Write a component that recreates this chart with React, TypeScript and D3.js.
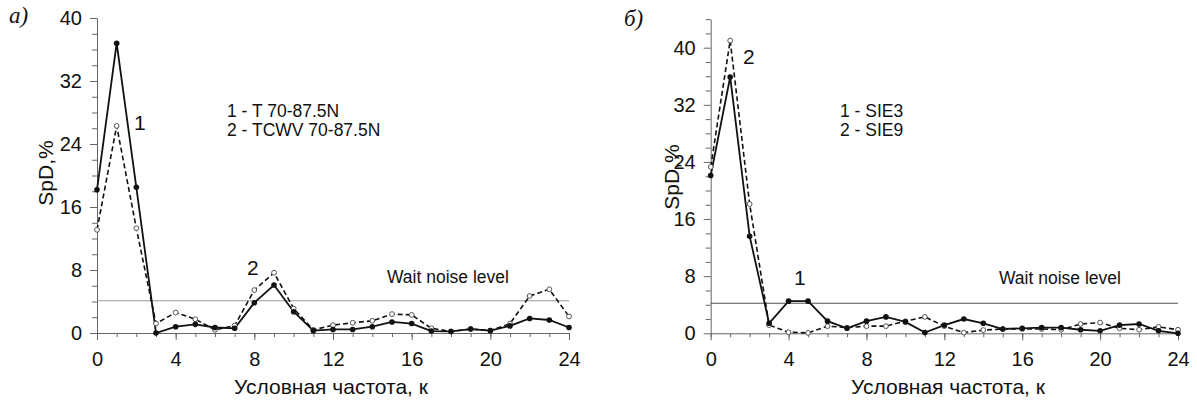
import React, { useEffect, useRef } from "react";
import * as d3 from "d3";

// Conditional frequency k
const freqK = [0, 1, 2, 3, 4, 5, 6, 7, 8, 9, 10, 11, 12, 13, 14, 15, 16, 17, 18, 19, 20, 21, 22, 23, 24];

// Panel a): 1 - T 70-87.5N (solid), 2 - TCWV 70-87.5N (dashed)
const seriesT = [18.2, 36.8, 18.5, 0.0, 0.8, 1.1, 0.7, 0.6, 3.85, 6.1, 2.7, 0.3, 0.45, 0.45, 0.8, 1.4, 1.2, 0.25, 0.2, 0.5, 0.3, 0.9, 1.85, 1.65, 0.7];
const seriesTCWV = [13.1, 26.3, 13.3, 1.2, 2.6, 1.75, 0.4, 0.95, 5.45, 7.65, 3.1, 0.4, 1.0, 1.3, 1.55, 2.4, 2.3, 0.6, 0.2, 0.5, 0.3, 1.2, 4.7, 5.55, 2.1];

// Panel б): 1 - SIE3 (solid), 2 - SIE9 (dashed)
const seriesSIE3 = [22.1, 35.9, 13.6, 1.4, 4.5, 4.5, 1.7, 0.7, 1.7, 2.3, 1.6, 0.1, 1.15, 2.0, 1.4, 0.6, 0.7, 0.8, 0.8, 0.5, 0.35, 1.15, 1.3, 0.35, 0.0];
const seriesSIE9 = [23.3, 41.0, 18.1, 1.15, 0.15, 0.05, 1.0, 0.8, 1.0, 1.0, 1.7, 2.3, 1.0, 0.1, 0.45, 0.6, 0.6, 0.6, 0.5, 1.3, 1.5, 0.7, 0.5, 0.9, 0.5];

const noiseLevelA = 4.1;
const noiseLevelB = 4.2;

const xTickValues = [0, 4, 8, 12, 16, 20, 24];
const yTickValues = [0, 8, 16, 24, 32, 40];
const yMinorA = [2, 4, 6, 10, 12, 14, 18, 20, 22, 26, 28, 30, 34, 36, 38];
const yMinorB = [2, 4, 6, 10, 12, 14, 18, 20, 22, 26, 28, 30, 34, 36, 38, 42, 44];

const legendA = ["1 - T 70-87.5N", "2 - TCWV 70-87.5N"];
const legendB = ["1 - SIE3", "2 - SIE9"];
const noiseText = "Wait noise level";
const xTitle = "Условная частота, к";
const yTitle = "SpD,%";

type PanelCfg = {
  x0: number; x1: number; yb: number; yt: number; ymax: number;
  minor: number[];
  solid: number[]; dashed: number[];
  noise: number; noiseColor: string;
  noiseTextX: number; noiseTextY: number;
  legend: string[]; legX: number; legY: number; legDy: number;
  label1: [number, number]; label2: [number, number];
  panelLabel: string; plX: number; plY: number;
  yTitleX: number; yTitleY: number;
  xTitleX: number;
};

const FONT = "Arial, 'Liberation Sans', sans-serif";

function drawPanel(svg: d3.Selection<SVGSVGElement, unknown, null, undefined>, c: PanelCfg) {
  const g = svg.append("g");
  const x = d3.scaleLinear().domain([0, 24]).range([c.x0, c.x1]);
  const y = d3.scaleLinear().domain([0, c.ymax]).range([c.yb, c.yt]);
  const axisColor = "#666";

  const ym = g.append("g").attr("transform", `translate(${c.x0},0)`)
    .call(d3.axisLeft(y).tickValues(c.minor).tickSize(5).tickFormat(() => ""));
  ym.select(".domain").remove();
  ym.selectAll("line").attr("stroke", axisColor);

  const ya = g.append("g").attr("transform", `translate(${c.x0},0)`)
    .call(d3.axisLeft(y).tickValues(yTickValues).tickSize(7).tickSizeOuter(0).tickPadding(8));
  ya.select(".domain").attr("stroke", axisColor);
  ya.selectAll("line").attr("stroke", axisColor);
  ya.selectAll("text").attr("font-family", FONT).attr("font-size", 20).attr("fill", "#111");

  const xm = g.append("g").attr("transform", `translate(0,${c.yb})`)
    .call(d3.axisBottom(x).tickValues(freqK).tickSize(4).tickFormat(() => ""));
  xm.select(".domain").remove();
  xm.selectAll("line").attr("stroke", axisColor);

  const xa = g.append("g").attr("transform", `translate(0,${c.yb})`)
    .call(d3.axisBottom(x).tickValues(xTickValues).tickSize(7).tickSizeOuter(0).tickPadding(12));
  xa.select(".domain").attr("stroke", axisColor);
  xa.selectAll("line").attr("stroke", axisColor);
  xa.selectAll("text").attr("font-family", FONT).attr("font-size", 20).attr("fill", "#111");

  g.append("line")
    .attr("x1", x(0)).attr("x2", x(24))
    .attr("y1", y(c.noise)).attr("y2", y(c.noise))
    .attr("stroke", c.noiseColor).attr("stroke-width", 1.1);
  g.append("text").attr("x", c.noiseTextX).attr("y", c.noiseTextY)
    .attr("font-family", FONT).attr("font-size", 17.5).attr("fill", "#111").text(noiseText);

  const line = d3.line<number>().x((_, i) => x(freqK[i])).y((d) => y(d));

  g.append("path").attr("d", line(c.dashed) as string)
    .attr("fill", "none").attr("stroke", "#111").attr("stroke-width", 1.6)
    .attr("stroke-dasharray", "5,3");
  g.append("path").attr("d", line(c.solid) as string)
    .attr("fill", "none").attr("stroke", "#111").attr("stroke-width", 1.8);

  g.append("g").selectAll("circle").data(c.dashed).join("circle")
    .attr("cx", (_, i) => x(freqK[i])).attr("cy", (d) => y(d)).attr("r", 2.4)
    .attr("fill", "#fff").attr("stroke", "#555").attr("stroke-width", 1);
  g.append("g").selectAll("circle").data(c.solid).join("circle")
    .attr("cx", (_, i) => x(freqK[i])).attr("cy", (d) => y(d)).attr("r", 2.8)
    .attr("fill", "#111");

  g.append("text").attr("x", c.label1[0]).attr("y", c.label1[1])
    .attr("font-family", FONT).attr("font-size", 21).attr("fill", "#111").text("1");
  g.append("text").attr("x", c.label2[0]).attr("y", c.label2[1])
    .attr("font-family", FONT).attr("font-size", 21).attr("fill", "#111").text("2");

  c.legend.forEach((t, i) => {
    g.append("text").attr("x", c.legX).attr("y", c.legY + i * c.legDy)
      .attr("font-family", FONT).attr("font-size", 17.5).attr("fill", "#111").text(t);
  });

  g.append("text").attr("x", c.xTitleX).attr("y", 394).attr("text-anchor", "middle")
    .attr("font-family", FONT).attr("font-size", 21).attr("fill", "#111").text(xTitle);
  g.append("text").attr("transform", `translate(${c.yTitleX},${c.yTitleY}) rotate(-90)`)
    .attr("text-anchor", "middle")
    .attr("font-family", FONT).attr("font-size", 21).attr("fill", "#111").text(yTitle);

  g.append("text").attr("x", c.plX).attr("y", c.plY)
    .attr("font-family", "'Liberation Serif', 'Times New Roman', serif")
    .attr("font-style", "italic").attr("font-size", 23).attr("fill", "#111").text(c.panelLabel);
}

export default function App() {
  const ref = useRef<SVGSVGElement>(null);
  useEffect(() => {
    if (!ref.current) return;
    const svg = d3.select(ref.current);
    svg.selectAll("*").remove();
    drawPanel(svg, {
      x0: 97, x1: 569, yb: 333, yt: 18, ymax: 40, minor: yMinorA,
      solid: seriesT, dashed: seriesTCWV,
      noise: noiseLevelA, noiseColor: "#999",
      noiseTextX: 387, noiseTextY: 283,
      legend: legendA, legX: 227, legY: 117, legDy: 18.5,
      label1: [134, 130], label2: [247, 275],
      panelLabel: "а)", plX: 9, plY: 23,
      yTitleX: 53, yTitleY: 173, xTitleX: 331,
    });
    drawPanel(svg, {
      x0: 710.7, x1: 1178, yb: 333.3, yt: 333.3 - 44 * 7.14, ymax: 44, minor: yMinorB,
      solid: seriesSIE3, dashed: seriesSIE9,
      noise: noiseLevelB, noiseColor: "#555",
      noiseTextX: 999, noiseTextY: 284,
      legend: legendB, legX: 840, legY: 117, legDy: 18.5,
      label1: [794, 285], label2: [743, 64],
      panelLabel: "б)", plX: 624, plY: 26,
      yTitleX: 679, yTitleY: 177, xTitleX: 948,
    });
  }, []);
  return (
    <svg ref={ref} width={1197} height={401}
      style={{ position: "absolute", left: 0, top: 0, background: "#fff" }} />
  );
}
